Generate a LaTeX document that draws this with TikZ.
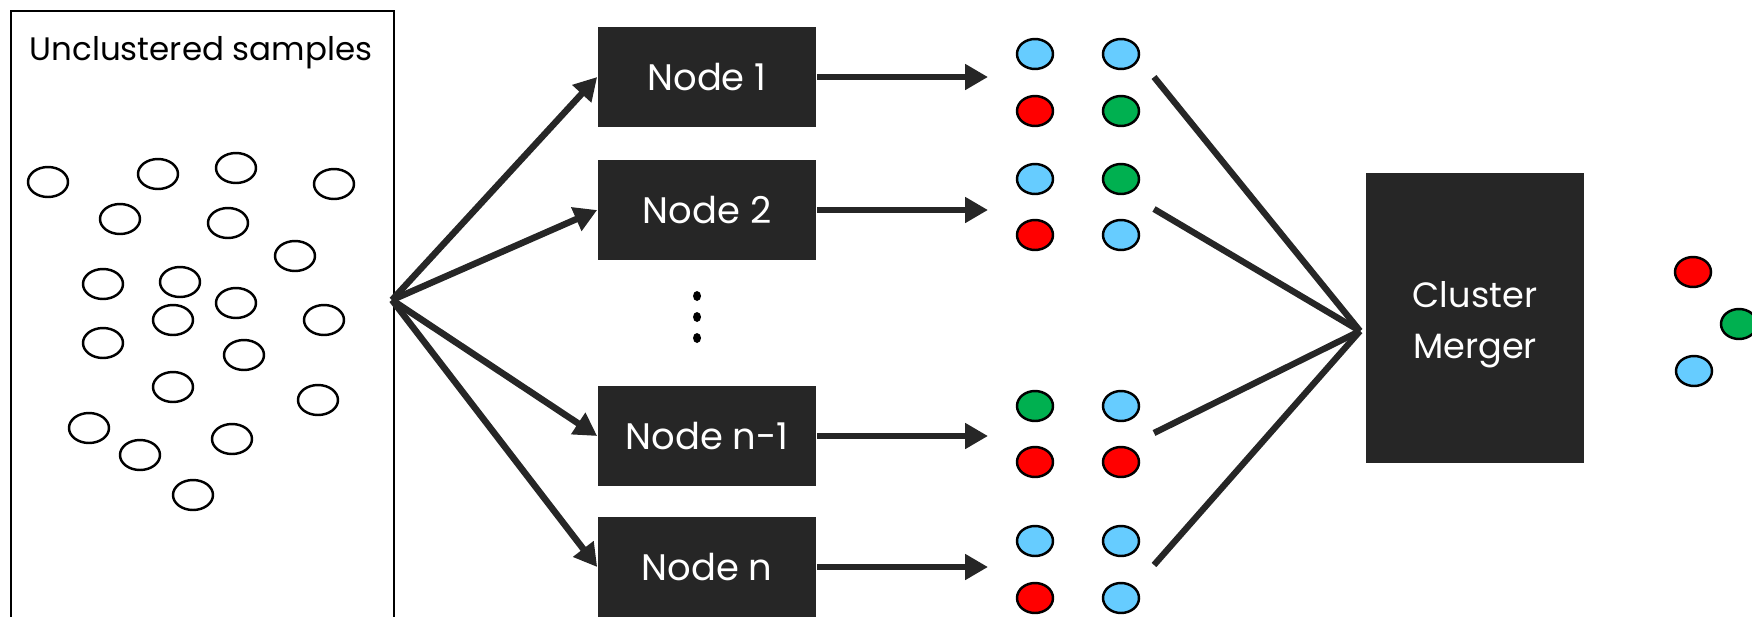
\documentclass[tikz,border=0pt]{standalone}
\usepackage{fontspec}
\setmainfont{Poppins}
\usetikzlibrary{arrows.meta}
\definecolor{boxgray}{HTML}{262626}
\definecolor{dotblue}{HTML}{66CCFF}
\definecolor{dotred}{HTML}{FF0000}
\definecolor{dotgreen}{HTML}{00B050}

\begin{document}
\begin{tikzpicture}[x=0.02cm,y=-0.02cm,
  worker/.style={fill=boxgray,text=white,minimum width=4.38cm,minimum height=2cm,font=\fontsize{21}{25}\selectfont},
  flow/.style={draw=boxgray,line width=3.7pt,-{Triangle[length=13pt,width=14pt]}},
  link/.style={draw=boxgray,line width=3.6pt},
  sample/.style={draw=black,line width=1.4pt},
  dot/.style={draw=black,line width=1.4pt}]
\useasboundingbox (0,0) rectangle (1752,616);

% unclustered samples
\draw[line width=1.5pt] (11,640) -- (11,11) -- (394,11) -- (394,640);
\node[anchor=base,font=\fontsize{18.5}{22}\selectfont] (title) at (201,60) {Unclustered samples};
\draw[sample] (48,182) ellipse (20 and 15) (158,174) ellipse (20 and 15) (236,168) ellipse (20 and 15) (334,184) ellipse (20 and 15);
\draw[sample] (120,219) ellipse (20 and 15) (228,223) ellipse (20 and 15) (295,256) ellipse (20 and 15) (103,284) ellipse (20 and 15);
\draw[sample] (180,282) ellipse (20 and 15) (236,303) ellipse (20 and 15) (173,320) ellipse (20 and 15) (324,320) ellipse (20 and 15);
\draw[sample] (103,343) ellipse (20 and 15) (244,355) ellipse (20 and 15) (173,387) ellipse (20 and 15) (318,400) ellipse (20 and 15);
\draw[sample] (89,428) ellipse (20 and 15) (140,455) ellipse (20 and 15) (232,439) ellipse (20 and 15) (193,495) ellipse (20 and 15);

% worker nodes
\node[worker] (n1) at (707,77) {Node 1};
\node[worker] (n2) at (707,210) {Node 2};
\node[worker] (n3) at (707,436) {Node n-1};
\node[worker] (n4) at (707,567) {Node n};
\fill (697,296) ellipse (4 and 5) (697,317) ellipse (4 and 5) (697,338) ellipse (4 and 5);

\coordinate (fan) at (392,300);
\draw[flow] (fan) -- (n1.west);
\draw[flow] (fan) -- (n2.west);
\draw[flow] (fan) -- (n3.west);
\draw[flow] (fan) -- (n4.west);

\coordinate (t1) at (988,77);
\coordinate (t2) at (988,210);
\coordinate (t3) at (988,436);
\coordinate (t4) at (988,567);
\draw[flow] (n1) -- (t1);
\draw[flow] (n2) -- (t2);
\draw[flow] (n3) -- (t3);
\draw[flow] (n4) -- (t4);

% local clusters
\draw[dot,fill=dotblue] (1035,54) ellipse (18 and 15);
\draw[dot,fill=dotblue] (1121,54) ellipse (18 and 15);
\draw[dot,fill=dotred] (1035,111) ellipse (18 and 15);
\draw[dot,fill=dotgreen] (1121,111) ellipse (18 and 15);
\draw[dot,fill=dotblue] (1035,179) ellipse (18 and 15);
\draw[dot,fill=dotgreen] (1121,179) ellipse (18 and 15);
\draw[dot,fill=dotred] (1035,235) ellipse (18 and 15);
\draw[dot,fill=dotblue] (1121,235) ellipse (18 and 15);
\draw[dot,fill=dotgreen] (1035,406) ellipse (18 and 15);
\draw[dot,fill=dotblue] (1121,406) ellipse (18 and 15);
\draw[dot,fill=dotred] (1035,462) ellipse (18 and 15);
\draw[dot,fill=dotred] (1121,462) ellipse (18 and 15);
\draw[dot,fill=dotblue] (1035,541) ellipse (18 and 15);
\draw[dot,fill=dotblue] (1121,541) ellipse (18 and 15);
\draw[dot,fill=dotred] (1035,598) ellipse (18 and 15);
\draw[dot,fill=dotblue] (1121,598) ellipse (18 and 15);

% merger
\node[fill=boxgray,minimum width=4.36cm,minimum height=5.82cm] (merger) at (1475,318) {};
\node[text=white,align=center,font=\fontsize{20}{29}\selectfont] (mtext) at (1475,325) {Cluster\\Merger};
\coordinate (join) at (1360,331);
\coordinate (m1) at (1154,77);
\coordinate (m2) at (1154,209);
\coordinate (m3) at (1154,433);
\coordinate (m4) at (1154,565);
\draw[link] (m1) -- (join);
\draw[link] (m2) -- (join);
\draw[link] (m3) -- (join);
\draw[link] (m4) -- (join);

\draw[dot,fill=dotred] (1693,272) ellipse (18 and 15);
\draw[dot,fill=dotgreen] (1739,324) ellipse (18 and 15);
\draw[dot,fill=dotblue] (1694,371) ellipse (18 and 15);
\end{tikzpicture}
\end{document}
